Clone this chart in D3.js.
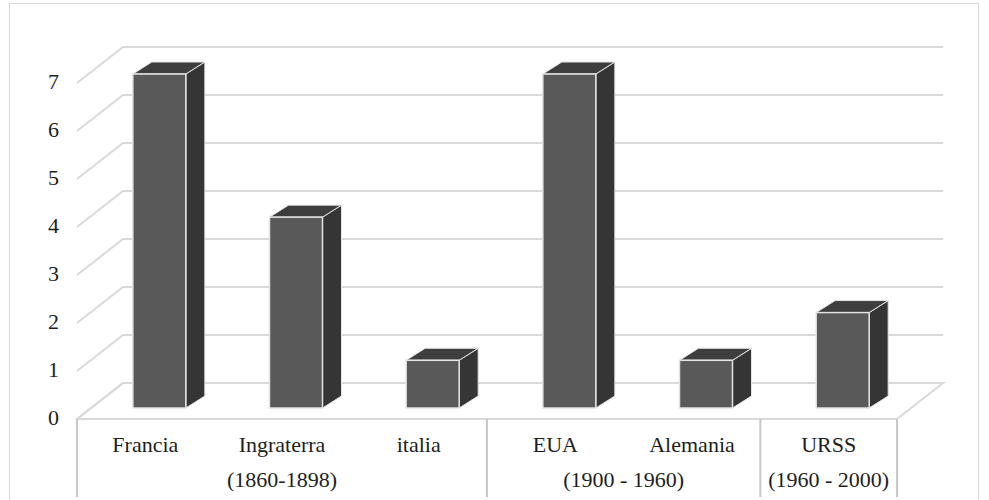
<!DOCTYPE html>
<html>
<head>
<meta charset="utf-8">
<script src="https://cdn.jsdelivr.net/npm/d3@7"></script>
<style>
  html, body { margin: 0; padding: 0; background: #fff; }
  svg { display: block; }
</style>
</head>
<body>
<svg id="chart" width="989" height="500"></svg>
<script>
// Chart data
const categories = ["Francia", "Ingraterra", "italia", "EUA", "Alemania", "URSS"];
const values = [7, 4, 1, 7, 1, 2];
const groupLabels = ["(1860-1898)", "(1900 - 1960)", "(1960 - 2000)"];
const groupSizes = [3, 2, 1];
const yTicks = [0, 1, 2, 3, 4, 5, 6, 7];

const serif = "Liberation Serif, Times New Roman, serif";
const svg = d3.select("#chart")
  .attr("font-family", serif)
  .style("font-family", serif);

// Oblique 3D layout: back wall plane and the depth offset towards the viewer
const frontLeft = 77, frontRight = 897;
const depthX = -46, depthY = 36;          // back plane -> front plane
const barDX = 19, barDY = -12;            // bar face -> bar back

const x = d3.scaleBand().domain(categories).range([frontLeft, frontRight]).padding(0);
const yBack = d3.scaleLinear().domain([0, 7]).range([383, 47]);
const yBar = d3.scaleLinear().domain([0, 7]).range([408, 74]);
const gridColor = "#d9d9d9";
const textColor = "#1e1e1e";
const fontSize = 22;

// Outer frame
svg.append("rect")
  .attr("x", 9.5).attr("y", 3.5).attr("width", 969).attr("height", 520)
  .attr("fill", "none").attr("stroke", gridColor).attr("stroke-width", 1);

const backLeft = frontLeft - depthX, backRight = frontRight - depthX;

// Floor
svg.append("path")
  .attr("d", `M${frontLeft},${yBack(0) + depthY} L${backLeft},${yBack(0)} L${backRight},${yBack(0)} L${frontRight},${yBack(0) + depthY} Z`)
  .attr("fill", "#fff").attr("stroke", gridColor).attr("stroke-width", 2);

// Gridlines: horizontal on the back wall, diagonal on the side wall
const grid = svg.append("g");
yTicks.forEach(t => {
  const yb = yBack(t);
  grid.append("path")
    .attr("d", `M${frontLeft},${yb + depthY} L${backLeft},${yb} L${backRight},${yb}`)
    .attr("fill", "none").attr("stroke", gridColor).attr("stroke-width", 2);
});

// Value axis labels
svg.append("g").selectAll("text").data(yTicks).join("text")
  .attr("x", 59).attr("y", d => yBack(d) + depthY + 1)
  .attr("text-anchor", "end").attr("dominant-baseline", "middle")
  .attr("fill", textColor).attr("font-size", fontSize).text(d => d);

// 3D bars
const barW = 53, barShift = 14;
const bars = svg.append("g").selectAll("g").data(categories).join("g");
bars.each(function(c, i) {
  const g = d3.select(this);
  const cx = x(c) + x.bandwidth() / 2 + barShift;
  const x0 = cx - barW / 2, x1 = cx + barW / 2;
  const yTop = yBar(values[i]), yBot = yBar(0);
  const edge = "#e4e4e4";
  // side face
  g.append("path")
    .attr("d", `M${x1},${yTop} L${x1 + barDX},${yTop + barDY} L${x1 + barDX},${yBot + barDY} L${x1},${yBot} Z`)
    .attr("fill", "#353535").attr("stroke", edge).attr("stroke-width", 1);
  // top face
  g.append("path")
    .attr("d", `M${x0},${yTop} L${x0 + barDX},${yTop + barDY} L${x1 + barDX},${yTop + barDY} L${x1},${yTop} Z`)
    .attr("fill", "#3e3e3e").attr("stroke", edge).attr("stroke-width", 1);
  // front face
  g.append("rect")
    .attr("x", x0).attr("y", yTop).attr("width", barW).attr("height", yBot - yTop)
    .attr("fill", "#595959").attr("stroke", edge).attr("stroke-width", 1.5);
});

// Category axis: lines and labels
const axisColor = "#c8c8c8";
const floorFront = yBack(0) + depthY;
const axis = svg.append("g");
let start = 0;
const bounds = [frontLeft];
groupSizes.forEach(n => { start += n; bounds.push(start === categories.length ? frontRight : x(categories[start])); });
bounds.forEach(bx => {
  axis.append("line").attr("x1", bx).attr("x2", bx).attr("y1", floorFront).attr("y2", 497)
    .attr("stroke", axisColor).attr("stroke-width", 2);
});

axis.selectAll("text.cat").data(categories).join("text").attr("class", "cat")
  .attr("x", d => x(d) + x.bandwidth() / 2).attr("y", 452)
  .attr("text-anchor", "middle").attr("fill", textColor).attr("font-size", fontSize).text(d => d);

axis.selectAll("text.grp").data(groupLabels).join("text").attr("class", "grp")
  .attr("x", (d, i) => (bounds[i] + bounds[i + 1]) / 2).attr("y", 487)
  .attr("text-anchor", "middle").attr("fill", textColor).attr("font-size", fontSize).text(d => d);
</script>
</body>
</html>
